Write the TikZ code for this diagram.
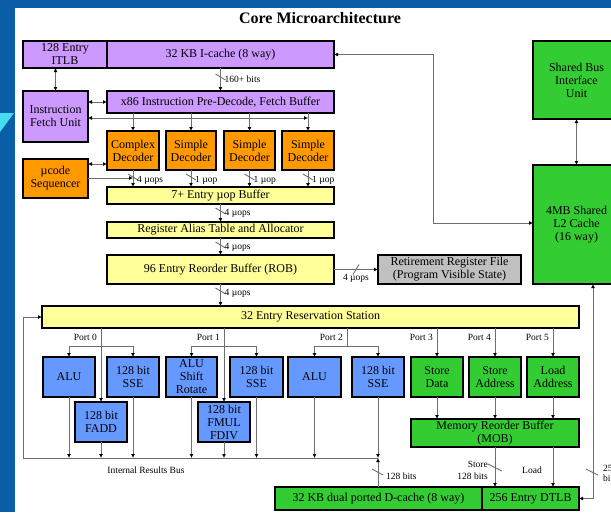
\documentclass[tikz,border=0pt]{standalone}
\usepackage{fontspec}
\setmainfont{Liberation Serif}
\usetikzlibrary{arrows.meta,calc}
\definecolor{bgblue}{RGB}{10,94,168}
\definecolor{tri}{RGB}{70,220,240}
\definecolor{cpurple}{RGB}{204,153,255}
\definecolor{corange}{RGB}{255,153,0}
\definecolor{cyellow}{RGB}{255,255,153}
\definecolor{cblue}{RGB}{102,153,255}
\definecolor{cgreen}{RGB}{51,204,51}
\definecolor{cgray}{RGB}{192,192,192}
\definecolor{conn}{RGB}{110,110,110}
\newcommand\bx[7]{\node[box,#2,minimum width={(#5-#3)*1pt},minimum height={(#6-#4)*1pt}] (#1) at ({(#3+#5)/2},{(#4+#6)/2}) {#7};}
\newcommand\slashmark[2]{\draw[wire] ($(#1)+(-5,#2-3)$) -- ($(#1)+(5,#2+3)$);}
\tikzset{
 box/.style={draw=black, line width=1.4pt, inner sep=0pt, outer sep=0pt, align=center, font=\fontsize{12}{13}\selectfont},
 wire/.style={draw=conn, line width=0.9pt},
 arr/.style={wire, -{Latex[length=4pt,width=4pt,color=black]}},
 darr/.style={wire, {Latex[length=4pt,width=4pt,color=black]}-{Latex[length=4pt,width=4pt,color=black]}},
 lbl/.style={font=\fontsize{9.5}{10.5}\selectfont, inner sep=0pt},
}
\begin{document}
\begin{tikzpicture}[x=1pt,y=-1pt]
\useasboundingbox (0,0) rectangle (611,512);
\clip (0,0) rectangle (611,512);
\fill[bgblue] (0,0) rectangle (611,512);
\fill[tri] (0,113) -- (14,113) -- (0,132) -- cycle;
\fill[white] (15,8) rectangle (611,512);
\node[font=\bfseries\fontsize{16}{18}\selectfont] (title) at (320,18) {Core Microarchitecture};

% boxes
\bx{itlb}{fill=cpurple}{23}{41}{107}{68}{128 Entry\\ITLB}
\bx{icache}{fill=cpurple}{107}{41}{334}{68}{32 KB I-cache (8 way)}
\bx{ifu}{fill=cpurple}{23}{91}{88}{142}{Instruction\\Fetch Unit}
\bx{pd}{fill=cpurple}{107}{91}{334}{113}{x86 Instruction Pre-Decode, Fetch Buffer}
\bx{cd}{fill=corange}{107}{131}{159}{170}{Complex\\Decoder}
\bx{sd1}{fill=corange}{166}{131}{216}{170}{Simple\\Decoder}
\bx{sd2}{fill=corange}{224}{131}{275}{170}{Simple\\Decoder}
\bx{sd3}{fill=corange}{282}{131}{334}{170}{Simple\\Decoder}
\bx{useq}{fill=corange}{23}{159}{88}{198}{µcode\\Sequencer}
\bx{uopb}{fill=cyellow}{107}{187}{334}{204}{7+ Entry µop Buffer}
\bx{rat}{fill=cyellow}{107}{222}{334}{238}{Register Alias Table and Allocator}
\bx{rob}{fill=cyellow}{107}{255}{334}{284}{96 Entry Reorder Buffer (ROB)}
\bx{rrf}{fill=cgray}{378}{255}{521}{284}{Retirement Register File\\(Program Visible State)}
\bx{rs}{fill=cyellow}{42}{306}{579}{328}{32 Entry Reservation Station}
\bx{biu}{fill=cgreen}{533}{41}{620}{119}{Shared Bus\\Interface\\Unit}
\bx{l2}{fill=cgreen}{533}{165}{620}{284}{4MB Shared\\L2 Cache\\(16 way)}
\bx{alu0}{fill=cblue}{43}{357}{95}{397}{ALU}
\bx{sse0}{fill=cblue}{107}{357}{159}{397}{128 bit\\SSE}
\bx{fadd}{fill=cblue}{75}{402}{127}{442}{128 bit\\FADD}
\bx{alus}{fill=cblue}{166}{357}{217}{397}{ALU\\Shift\\Rotate}
\bx{sse1}{fill=cblue}{230}{357}{283}{397}{128 bit\\SSE}
\bx{fmul}{fill=cblue}{198}{402}{250}{442}{128 bit\\FMUL\\FDIV}
\bx{alu2}{fill=cblue}{288}{357}{341}{397}{ALU}
\bx{sse2}{fill=cblue}{352}{357}{404}{397}{128 bit\\SSE}
\bx{sdata}{fill=cgreen}{411}{357}{463}{397}{Store\\Data}
\bx{saddr}{fill=cgreen}{469}{357}{521}{397}{Store\\Address}
\bx{laddr}{fill=cgreen}{527}{357}{579}{397}{Load\\Address}
\bx{mob}{fill=cgreen}{411}{419}{579}{447}{Memory Reorder Buffer\\(MOB)}
\bx{dc}{fill=cgreen}{275}{487}{482}{510}{32 KB dual ported D-cache (8 way)}
\bx{dtlb}{fill=cgreen}{482}{487}{579}{510}{256 Entry DTLB}

% front end
\draw[darr] (ifu.north) -- (ifu.north |- itlb.south);
\draw[arr] (icache.south) -- (pd.north);
\slashmark{icache.south}{9}
\node[lbl,anchor=west] (l160) at ($(icache.south)+(4,11)$) {160+ bits};
\draw[darr] (ifu.east |- pd.west) -- (pd.west);
\coordinate (fb) at (308,118);
\draw[darr] (ifu.east |- fb) -- (fb);
\foreach \n in {cd,sd1,sd2,sd3} \draw[arr] (\n.north |- pd.south) -- (\n.north);
\coordinate (y164) at (0,164);
\draw[darr] (useq.east |- y164) -- (cd.west |- y164);
\coordinate (y178) at (0,178);
\draw[arr] (useq.east |- y178) -- (cd.south |- y178);
\foreach \n in {cd,sd1,sd2,sd3} {
  \draw[arr] (\n.south) -- (\n.south |- uopb.north);
  \slashmark{\n.south}{7}
}
\node[lbl,anchor=west] (lcd) at ($(cd.south)+(4,10)$) {4 µops};
\node[lbl,anchor=west] (lsd1) at ($(sd1.south)+(4,10)$) {1 µop};
\node[lbl,anchor=west] (lsd2) at ($(sd2.south)+(4,10)$) {1 µop};
\node[lbl,anchor=west] (lsd3) at ($(sd3.south)+(4,10)$) {1 µop};

\draw[arr] (uopb.south) -- (rat.north);
\slashmark{uopb.south}{7}
\node[lbl,anchor=west] (lu1) at ($(uopb.south)+(4,9)$) {4 µops};
\draw[arr] (rat.south) -- (rob.north);
\slashmark{rat.south}{7}
\node[lbl,anchor=west] (lu2) at ($(rat.south)+(4,9)$) {4 µops};
\draw[arr] (rob.south) -- (rob.south |- rs.north);
\slashmark{rob.south}{7}
\node[lbl,anchor=west] (lu3) at ($(rob.south)+(4,9)$) {4 µops};

\draw[arr] (rob.east) -- (rrf.west);
\coordinate (rm) at ($(rob.east)!0.5!(rrf.west)$);
\draw[wire] ($(rm)+(-3,5)$) -- ($(rm)+(3,-5)$);
\node[lbl] (lrr) at ($(rm)+(0,9)$) {4 µops};

% L2 connections
\coordinate (ic) at (433,0);
\coordinate (y223) at (0,223);
\draw[darr] (icache.east) -- (icache.east -| ic) |- (l2.west |- y223);
\draw[darr] (biu.south) -- (l2.north);
\coordinate (x593) at (593,0);
\draw[darr] (l2.south -| x593) |- (dtlb.east);
\coordinate (s593) at (593,472);
\draw[wire] ($(s593)+(-7,-3)$) -- ($(s593)+(5,3)$);
\node[lbl,anchor=north west,align=left] (l256) at (603,465) {256\\bits};

% reservation station and bus
\coordinate (busL) at (23,458);
\coordinate (busR) at (sse2.south |- busL);
\draw[wire] (busL) -- (busR);
\draw[arr] (busL) |- (rs.west);
\coordinate (y346) at (0,346);
\coordinate (p0) at (fadd.north |- rs.south);
\draw[arr] (p0) -- (fadd.north);
\draw[arr] (fadd.north |- y346) -| (alu0.north);
\draw[arr] (fadd.north |- y346) -| (sse0.north);
\coordinate (p1) at (fmul.north |- rs.south);
\draw[arr] (p1) -- (fmul.north);
\draw[arr] (fmul.north |- y346) -| (alus.north);
\draw[arr] (fmul.north |- y346) -| (sse1.north);
\coordinate (p2x) at (347,0);
\draw[wire] (rs.south -| p2x) -- (p2x |- y346);
\draw[arr] (p2x |- y346) -| (alu2.north);
\draw[arr] (p2x |- y346) -| (sse2.north);
\foreach \n in {sdata,saddr,laddr} \draw[arr] (\n.north |- rs.south) -- (\n.north);
\node[lbl,anchor=east] (port0) at (97,337) {Port 0};
\node[lbl,anchor=east] (port1) at (220,337) {Port 1};
\node[lbl,anchor=east] (port2) at (343,337) {Port 2};
\node[lbl,anchor=east] (port3) at (433,337) {Port 3};
\node[lbl,anchor=east] (port4) at (491,337) {Port 4};
\node[lbl,anchor=east] (port5) at (549,337) {Port 5};
\foreach \n in {alu0,fadd,sse0,alus,fmul,sse1,alu2,sse2} \draw[arr] (\n.south) -- (\n.south |- busL);
\node[lbl] (irb) at (146,470) {Internal Results Bus};

% memory
\draw[arr] (dc.north -| busR) -- (busR);
\draw[wire] ($(busR)+(-6,11)$) -- ($(busR)+(5,17)$);
\node[lbl,anchor=west] (l128) at ($(busR)+(8,18)$) {128 bits};
\foreach \n in {sdata,saddr,laddr} \draw[arr] (\n.south) -- (\n.south |- mob.north);
\draw[arr] (mob.south -| saddr.south) -- (dtlb.north -| saddr.south);
\draw[arr] (mob.south -| laddr.south) -- (dtlb.north -| laddr.south);
\draw[wire] (488,464) -- (502,471);
\node[lbl,anchor=east] (lst) at (488,464) {Store};
\node[lbl,anchor=east] (lst2) at (488,476) {128 bits};
\node[lbl] (lld) at (532,470) {Load};
\end{tikzpicture}
\end{document}
